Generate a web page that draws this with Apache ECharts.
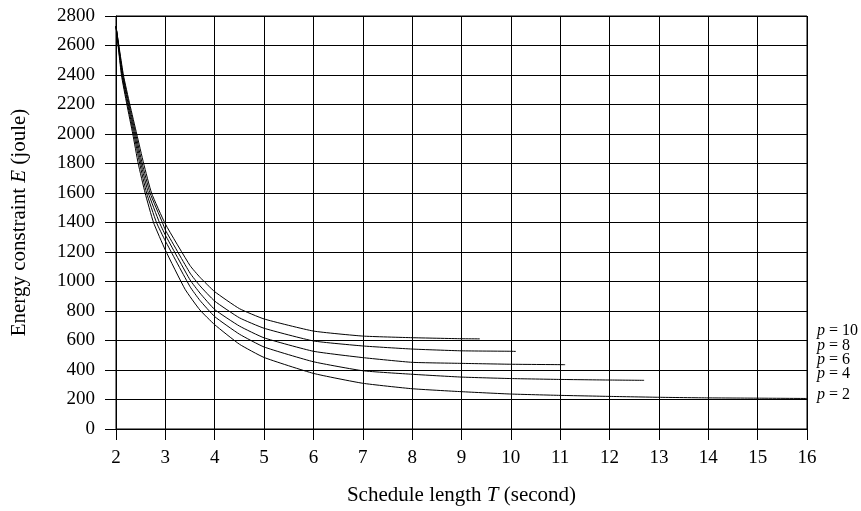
<!DOCTYPE html>
<html>
<head>
<meta charset="utf-8">
<script src="https://cdn.jsdelivr.net/npm/echarts@6/dist/echarts.min.js"></script>
<style>html,body{margin:0;padding:0;background:#fff;}#c{width:861px;height:511px;}</style>
</head>
<body>
<div id="c"></div>
<script>
var xTicks = [2,3,4,5,6,7,8,9,10,11,12,13,14,15,16];
var yTicks = [0,200,400,600,800,1000,1200,1400,1600,1800,2000,2200,2400,2600,2800];
var seriesNames = ['p = 2','p = 4','p = 6','p = 8','p = 10'];

var p2 = [[2,2730],[2.11,2400],[2.22,2200],[2.34,2000],[2.45,1800],[2.59,1600],[2.76,1400],[3,1213],[3.4,947],[3.7,807],[4,707],[4.5,575],[5,485],[6,377],[7,310],[8,273],[9,253],[10,237],[11,228],[12,221],[13,215],[14,211],[15,209],[16,207]];
var p4 = [[2,2730],[2.12,2400],[2.235,2200],[2.36,2000],[2.48,1800],[2.62,1600],[2.82,1400],[3,1275],[3.5,965],[3.7,872],[4,762],[4.5,643],[5,556],[6,456],[7,395],[8,371],[9,352],[10,342],[11,336],[12,332],[12.7,330]];
var p6 = [[2,2730],[2.13,2400],[2.25,2200],[2.38,2000],[2.505,1800],[2.655,1600],[2.88,1400],[3,1315],[3.5,1011],[3.7,922],[4,810],[4.5,698],[5,618],[6,527],[7,484],[8,452],[9,445],[10,439],[11.1,436]];
var p8 = [[2,2730],[2.14,2400],[2.265,2200],[2.4,2000],[2.53,1800],[2.69,1600],[2.94,1400],[3,1349],[3.5,1057],[3.7,971],[4,867],[4.5,754],[5,683],[6,597],[7,563],[8,542],[9,530],[10,527],[10.1,526]];
var p10 = [[2,2730],[2.15,2400],[2.28,2200],[2.42,2000],[2.56,1800],[2.72,1600],[3,1390],[3.5,1108],[3.7,1029],[4,931],[4.5,816],[5,746],[6,664],[7,630],[8,619],[9,612],[9.37,611]];

var serif = '"Liberation Serif","DejaVu Serif",serif';
var chart = echarts.init(document.getElementById('c'), null, {renderer:'canvas'});
var datas = [p2,p4,p6,p8,p10];
var series = datas.map(function(d,i){
  return {name: seriesNames[i], type:'line', data:d, showSymbol:false, smooth:0.15,
    lineStyle:{color:'#000', width:1}, animation:false, z:3};
});
var axisCommon = {
  axisLine:{show:true, lineStyle:{color:'#000', width:1}},
  axisTick:{show:true, inside:false, length:11, lineStyle:{color:'#000', width:1}},
  splitLine:{show:true, lineStyle:{color:'#000', width:1}},
  axisLabel:{color:'#000', fontFamily:serif, fontSize:19, formatter:function(v){return String(v);}}
};
chart.setOption({
  animation:false,
  backgroundColor:'#fff',
  grid:{left:116, right:54, top:16, bottom:82, show:true, borderColor:'#000', borderWidth:1},
  xAxis: Object.assign({}, axisCommon, {
    type:'value', min:xTicks[0], max:xTicks[xTicks.length-1], interval:1,
    axisLabel:Object.assign({}, axisCommon.axisLabel, {margin:20}),
    name:'Schedule length {i|T} (second)', nameLocation:'middle', nameGap:56,
    nameTextStyle:{color:'#000', fontFamily:serif, fontSize:21,
      rich:{i:{fontStyle:'italic', fontFamily:serif, fontSize:21, color:'#000'}}}
  }),
  yAxis: Object.assign({}, axisCommon, {
    type:'value', min:yTicks[0], max:yTicks[yTicks.length-1], interval:200,
    axisLabel:Object.assign({}, axisCommon.axisLabel, {margin:21}),
    name:'Energy constraint {i|E} (joule)', nameLocation:'middle', nameGap:86, nameRotate:90,
    nameTextStyle:{color:'#000', fontFamily:serif, fontSize:21,
      rich:{i:{fontStyle:'italic', fontFamily:serif, fontSize:21, color:'#000'}}}
  }),
  graphic: [
    {label:'p = 10', y:332},{label:'p = 8', y:347},{label:'p = 6', y:361},{label:'p = 4', y:375},{label:'p = 2', y:396}
  ].map(function(o){
    return {type:'text', left:817, top:o.y-9, style:{
      text:'{i|p} = ' + o.label.split(' = ')[1], fontFamily:serif, fontSize:16, fill:'#000',
      rich:{i:{fontStyle:'italic', fontFamily:serif, fontSize:16, fill:'#000'}}}};
  }),
  series: series
});
</script>
</body>
</html>
